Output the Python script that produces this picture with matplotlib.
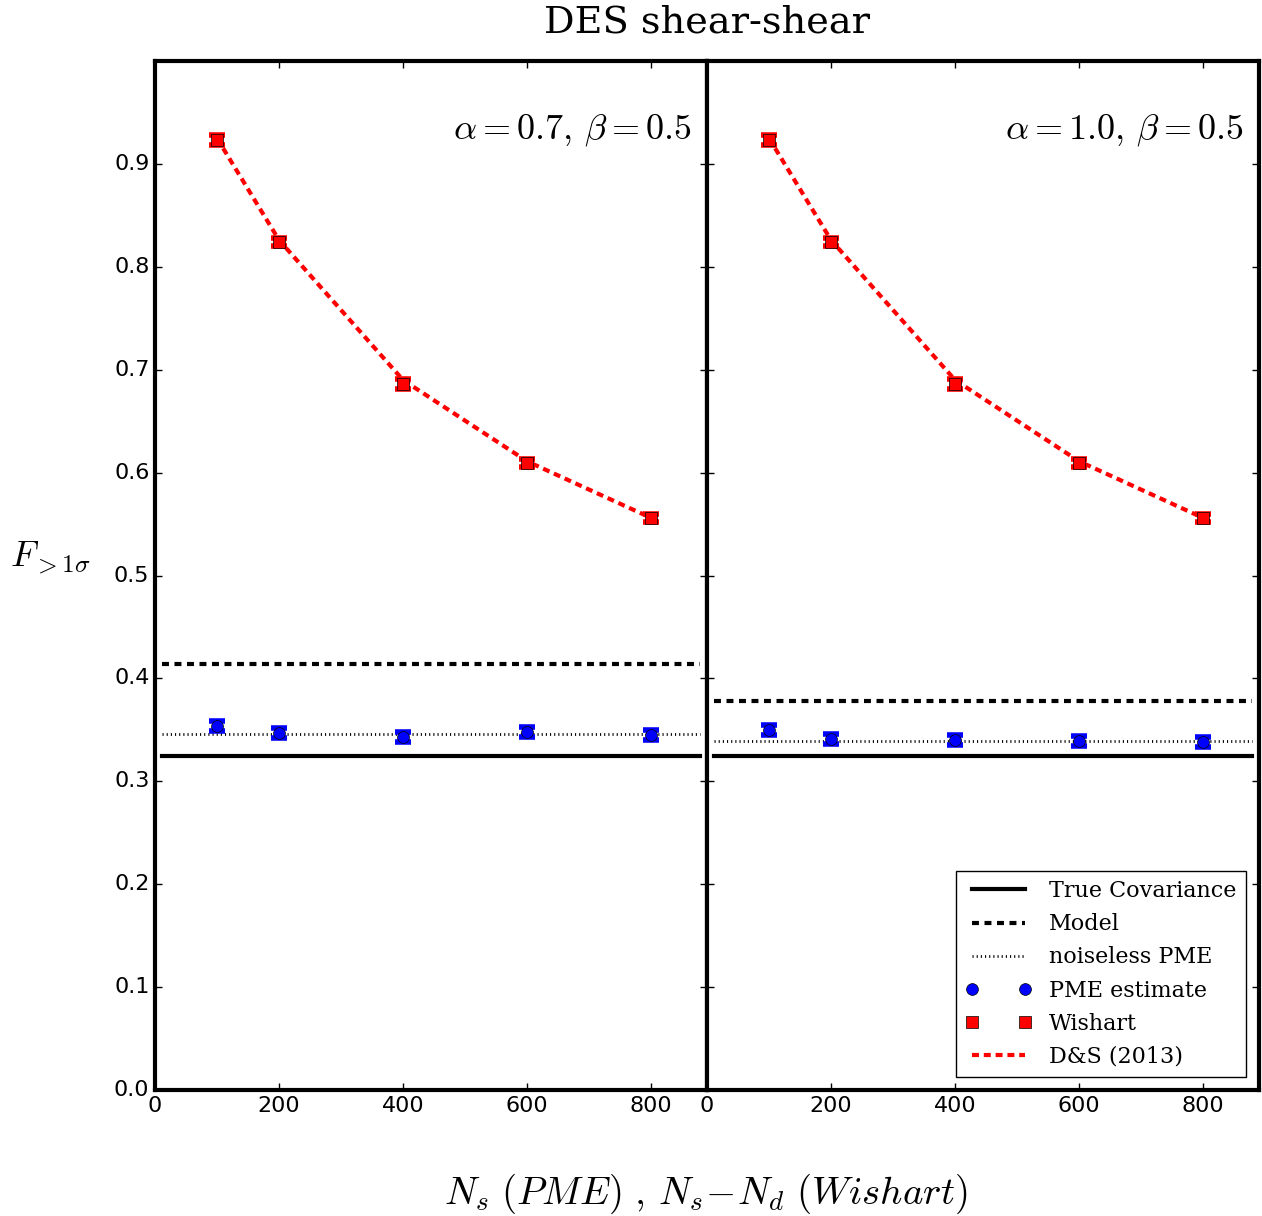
import numpy as np
import matplotlib
matplotlib.use('Agg')
import matplotlib.pyplot as plt

# --- data ---
ns = [100, 200, 400, 600, 800]

wishart_left = [0.923, 0.824, 0.686, 0.609, 0.556]
wishart_left_err = [0.005, 0.004, 0.005, 0.004, 0.004]
wishart_right = [0.923, 0.824, 0.686, 0.609, 0.556]
wishart_right_err = [0.005, 0.004, 0.005, 0.004, 0.004]

ds_left = [0.925, 0.826, 0.690, 0.611, 0.556]
ds_right = [0.925, 0.826, 0.690, 0.611, 0.556]

pme_left = [0.354, 0.347, 0.343, 0.348, 0.345]
pme_left_err = [0.005, 0.005, 0.005, 0.005, 0.005]
pme_right = [0.350, 0.341, 0.340, 0.339, 0.338]
pme_right_err = [0.005, 0.005, 0.005, 0.005, 0.005]

true_cov = [0.325, 0.325]
model = [0.414, 0.378]
noiseless_pme = [0.346, 0.339]

panel_labels = [r'$\alpha=0.7,\,\beta=0.5$', r'$\alpha=1.0,\,\beta=0.5$']

line_x = [12, 878]

plt.style.use('classic')
plt.rcParams['mathtext.fontset'] = 'cm'
plt.rcParams['figure.facecolor'] = 'white'

fig = plt.figure(figsize=(12.62, 12.16), dpi=100)
fig.subplots_adjust(left=0.1228, right=0.9976, top=0.9498, bottom=0.1036, wspace=0)
ax1 = fig.add_subplot(1, 2, 1)
ax2 = fig.add_subplot(1, 2, 2, sharey=ax1)

panels = [
    (ax1, wishart_left, wishart_left_err, ds_left, pme_left, pme_left_err),
    (ax2, wishart_right, wishart_right_err, ds_right, pme_right, pme_right_err),
]

for i, (ax, w, we, ds, p, pe) in enumerate(panels):
    ax.plot(line_x, [true_cov[i]] * 2, 'k-', lw=3, label='True Covariance')
    ax.plot(line_x, [model[i]] * 2, 'k--', lw=3, dashes=(5, 4), label='Model')
    ax.plot(line_x, [noiseless_pme[i]] * 2, color='k', lw=2,
            dashes=(0.8, 2.2), label='noiseless PME')
    # error bars (no legend entry), then the markers on top
    ax.errorbar(ns, p, yerr=pe, fmt='none', ecolor='b', elinewidth=3,
                capsize=6, capthick=4, zorder=3)
    ax.plot(ns, p, 'o', color='b', mec='k', ms=8.5, zorder=4, label='PME estimate')
    ax.errorbar(ns, w, yerr=we, fmt='none', ecolor='r', elinewidth=3,
                capsize=6, capthick=4, zorder=3)
    ax.plot(ns, w, 's', color='r', mec='k', ms=8, zorder=4, label='Wishart')
    ax.plot(ns, ds, 'r--', lw=3, dashes=(5, 3.5), label='D&S (2013)')

    ax.set_xlim(0, 890)
    ax.set_ylim(0, 1.0)
    ax.set_xticks([0, 200, 400, 600, 800])
    ax.set_yticks(np.arange(0, 0.95, 0.1))
    ax.tick_params(labelsize=16, length=5, width=1)
    for sp in ax.spines.values():
        sp.set_linewidth(3)
    ax.text(0.972, 0.95, panel_labels[i], transform=ax.transAxes,
            ha='right', va='top', fontsize=26)

ax1.yaxis.set_major_formatter(matplotlib.ticker.FormatStrFormatter('%.1f'))
plt.setp(ax2.get_yticklabels(), visible=False)

ax1.set_ylabel(r'$F_{>1\sigma}$', fontsize=26, rotation=0, labelpad=46)
fig.text(0.5595, 0.0, r'$N_s\ (PME)\ ,\, N_s\!-\!N_d\ (Wishart)$',
         ha='center', va='bottom', fontsize=28)
fig.text(0.5603, 0.967, 'DES shear-shear', ha='center', va='bottom',
         fontsize=27.5, family='DejaVu Serif')

leg = ax2.legend(loc='lower right', numpoints=2, handlelength=3,
                 borderaxespad=0.6, prop={'family': 'DejaVu Serif', 'size': 16})
leg.get_frame().set_linewidth(1)

fig.savefig('out.png', dpi=100)
